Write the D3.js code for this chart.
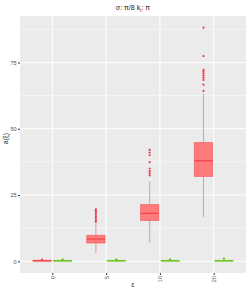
<!DOCTYPE html>
<html>
<head>
<meta charset="utf-8">
<script src="https://cdn.jsdelivr.net/npm/d3@7"></script>
<style>
  body { margin: 0; background: #fff; }
  svg { display: block; font-family: "Liberation Sans", "DejaVu Sans", sans-serif; }
</style>
</head>
<body>
<div id="chart"></div>
<script>
// categories on x (epsilon values)
const categories = ['0', '5', '10', '20'];
const groups = ['red', 'green'];
const yTicks = [0, 25, 50, 75];

// box stats per category: [whiskerLow, q1, median, q3, whiskerHigh]
const redStats = [
  [0.0, 0.05, 0.2, 0.4, 0.55],
  [3.1, 6.9, 8.4, 9.8, 14.0],
  [7.0, 15.4, 18.1, 21.4, 30.2],
  [16.6, 32.0, 37.9, 44.8, 63.3]
];
const redOutliers = [
  [0.65],
  [14.8, 15.5, 16.3, 17.0, 17.7, 18.4, 19.0, 19.6],
  [32.4, 33.2, 34.0, 35.0, 37.4, 40.0, 41.0, 42.0],
  [64.3, 66.6, 68.4, 69.2, 70.0, 70.8, 71.5, 72.2, 77.4, 88.1]
];
const greenStats = [
  [0.0, 0.05, 0.2, 0.35, 0.5],
  [0.0, 0.05, 0.2, 0.35, 0.5],
  [0.0, 0.05, 0.2, 0.35, 0.5],
  [0.0, 0.05, 0.2, 0.35, 0.5]
];
const greenOutliers = [
  [0.7],
  [0.7],
  [0.75],
  [1.0]
];

const W = 249, H = 291;
const margin = { top: 16, right: 3, bottom: 18, left: 20 };
const width = W - margin.left - margin.right;
const height = H - margin.top - margin.bottom;

const colors = {
  red: { stroke: '#F0434C', whisker: '#F2959A', fill: '#FF7A7A', point: '#EE3B44' },
  green: { stroke: '#6CC31A', whisker: '#A8DC78', fill: '#9BDB5A', point: '#62BD10' }
};

const svg = d3.select('#chart').append('svg')
  .attr('width', W)
  .attr('height', H);

const g = svg.append('g')
  .attr('transform', 'translate(' + margin.left + ',' + margin.top + ')');

// y domain with ggplot-like 5% expansion
const allVals = redStats.flat().concat(redOutliers.flat(), greenStats.flat(), greenOutliers.flat());
const yMin = d3.min(allVals), yMax = d3.max(allVals);
const pad = (yMax - yMin) * 0.05;

const y = d3.scaleLinear()
  .domain([yMin - pad, yMax + pad])
  .range([height, 0]);

const x = d3.scalePoint()
  .domain(categories)
  .range([0, width])
  .padding(0.6);

const step = x.step();
const dodge = d3.scaleOrdinal().domain(groups).range([-0.19 * step, 0.19 * step]);
const boxW = 0.34 * step;

// panel
g.append('rect')
  .attr('width', width)
  .attr('height', height)
  .attr('fill', '#EBEBEB');

// minor grid
const minor = yTicks.map(function(t) { return t + 12.5; }).filter(function(t) { return y(t) > 0; });
g.selectAll('.minor')
  .data(minor)
  .enter().append('line')
  .attr('x1', 0).attr('x2', width)
  .attr('y1', function(d) { return y(d); })
  .attr('y2', function(d) { return y(d); })
  .attr('stroke', '#fff')
  .attr('stroke-width', 0.5);

// major grid
g.selectAll('.hmajor')
  .data(yTicks)
  .enter().append('line')
  .attr('x1', 0).attr('x2', width)
  .attr('y1', function(d) { return y(d); })
  .attr('y2', function(d) { return y(d); })
  .attr('stroke', '#fff')
  .attr('stroke-width', 1);

g.selectAll('.vmajor')
  .data(categories)
  .enter().append('line')
  .attr('y1', 0).attr('y2', height)
  .attr('x1', function(d) { return x(d); })
  .attr('x2', function(d) { return x(d); })
  .attr('stroke', '#fff')
  .attr('stroke-width', 1);

// axes
const yAxis = d3.axisLeft(y).tickValues(yTicks).tickSize(2).tickPadding(1.5);
const xAxis = d3.axisBottom(x).tickSize(2).tickPadding(1.5);

const gy = g.append('g').call(yAxis);
gy.select('.domain').remove();
gy.selectAll('.tick line').attr('stroke', '#333');
gy.selectAll('.tick text').attr('fill', '#4D4D4D').attr('font-size', 5.5);

const gx = g.append('g').attr('transform', 'translate(0,' + height + ')').call(xAxis);
gx.select('.domain').remove();
gx.selectAll('.tick line').attr('stroke', '#333');
gx.selectAll('.tick text')
  .attr('fill', '#4D4D4D')
  .attr('font-size', 5.5)
  .attr('text-anchor', 'end')
  .attr('dy', '0.35em')
  .attr('transform', 'translate(0,3) rotate(-90)')
  .attr('x', 0).attr('y', 0);

// boxes
const boxData = [];
categories.forEach(function(c, i) {
  boxData.push({ cat: c, grp: 'red', s: redStats[i], out: redOutliers[i] });
  boxData.push({ cat: c, grp: 'green', s: greenStats[i], out: greenOutliers[i] });
});

const boxes = g.selectAll('.box')
  .data(boxData)
  .enter().append('g')
  .attr('class', 'box')
  .attr('transform', function(d) { return 'translate(' + (x(d.cat) + dodge(d.grp)) + ',0)'; });

boxes.append('line')
  .attr('y1', function(d) { return y(d.s[0]); })
  .attr('y2', function(d) { return y(d.s[1]); })
  .attr('stroke', function(d) { return colors[d.grp].whisker; })
  .attr('stroke-width', 1);

boxes.append('line')
  .attr('y1', function(d) { return y(d.s[3]); })
  .attr('y2', function(d) { return y(d.s[4]); })
  .attr('stroke', function(d) { return colors[d.grp].whisker; })
  .attr('stroke-width', 1);

boxes.append('rect')
  .attr('x', -boxW / 2)
  .attr('width', boxW)
  .attr('y', function(d) { return y(d.s[3]); })
  .attr('height', function(d) { return Math.max(0.5, y(d.s[1]) - y(d.s[3])); })
  .attr('fill', function(d) { return colors[d.grp].fill; })
  .attr('stroke', function(d) { return colors[d.grp].stroke; })
  .attr('stroke-opacity', 0.5)
  .attr('stroke-width', 1);

boxes.append('line')
  .attr('x1', -boxW / 2).attr('x2', boxW / 2)
  .attr('y1', function(d) { return y(d.s[2]); })
  .attr('y2', function(d) { return y(d.s[2]); })
  .attr('stroke', function(d) { return colors[d.grp].stroke; })
  .attr('stroke-width', 1.2);

boxes.selectAll('.out')
  .data(function(d) { return d.out.map(function(v) { return { v: v, grp: d.grp }; }); })
  .enter().append('circle')
  .attr('r', 1.1)
  .attr('cy', function(d) { return y(d.v); })
  .attr('fill', function(d) { return colors[d.grp].point; });

// labels
svg.append('text')
  .attr('x', margin.left + width / 2)
  .attr('y', 10)
  .attr('text-anchor', 'middle')
  .attr('font-size', 7)
  .attr('fill', '#222')
  .html('σ: π/8  k<tspan font-size="4.5" dy="1.5">t</tspan><tspan dy="-1.5">: π</tspan>');

svg.append('text')
  .attr('x', margin.left + width / 2)
  .attr('y', H - 4)
  .attr('text-anchor', 'middle')
  .attr('font-size', 6.5)
  .attr('fill', '#222')
  .text('ε');

svg.append('text')
  .attr('transform', 'translate(8,' + (margin.top + height / 2 - 6) + ') rotate(-90)')
  .attr('text-anchor', 'middle')
  .attr('font-size', 6.5)
  .attr('fill', '#222')
  .text('a(ξ)');
</script>
</body>
</html>
